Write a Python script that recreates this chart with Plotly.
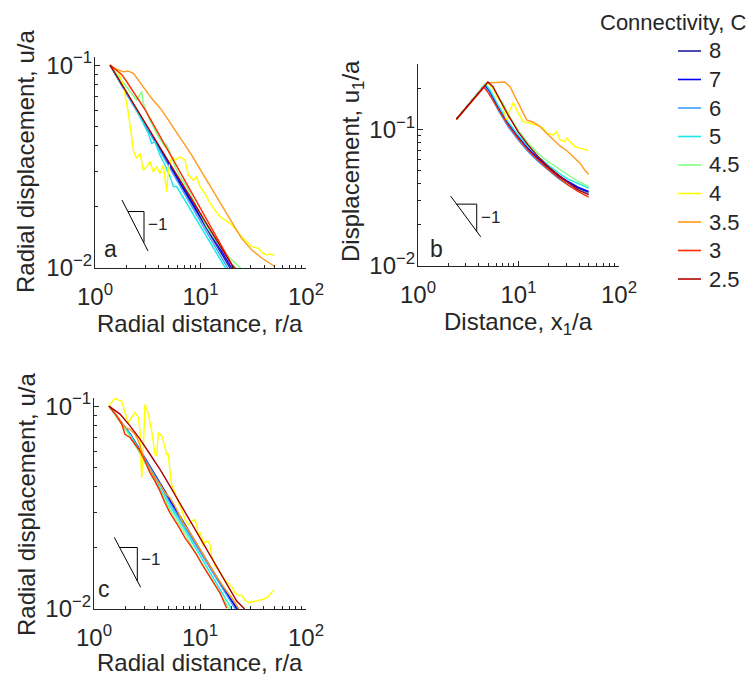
import plotly.graph_objects as go

# ---------------- data ----------------
CONNECTIVITY = ["8", "7", "6", "5", "4.5", "4", "3.5", "3", "2.5"]
COLORS = ["#1f1f9c", "#0000ff", "#3fa0ff", "#18e8e8", "#80ff80",
          "#ffff00", "#ff9a1a", "#ff2a00", "#b00000"]

# Panel a: radial displacement u/a vs r/a
A_R_8 = [1.39, 2.0, 3.0, 5.0, 8.0, 12.0, 19.05]
A_U_8 = [0.1, 0.0721, 0.0505, 0.0323, 0.0214, 0.01495, 0.01]
A_R_7 = [1.39, 2.0, 3.0, 5.0, 8.0, 12.0, 19.74]
A_U_7 = [0.1, 0.0725, 0.0511, 0.0328, 0.0218, 0.01534, 0.01]
A_R_6 = [1.39, 2.0, 3.0, 5.0, 8.0, 12.0, 18.1]
A_U_6 = [0.1, 0.0717, 0.0506, 0.0316, 0.0207, 0.0144, 0.01]
A_R_5 = [1.39, 1.664, 2.07, 2.57, 3.20, 3.44, 3.70, 4.13, 4.61, 5.14, 5.53, 5.94,
         6.63, 8.25, 10.26, 12.76, 15.3, 17.3]
A_U_5 = [0.1, 0.0860, 0.0711, 0.0578, 0.0461, 0.0411, 0.0419, 0.0360, 0.0322, 0.0282,
         0.0252, 0.0252, 0.0229, 0.0189, 0.0157, 0.0130, 0.01116, 0.00996]
A_R_45 = [1.39, 1.726, 1.995, 2.48, 2.77, 2.87, 3.20, 3.57, 3.98, 4.61, 4.78, 5.33,
          5.73, 6.39, 7.39, 8.55, 9.89, 11.44, 13.2, 15.3, 17.7, 20.5, 24.5]
A_U_45 = [0.1, 0.0860, 0.0782, 0.0673, 0.0740, 0.0648, 0.0557, 0.0497, 0.0444, 0.0396,
          0.0404, 0.0353, 0.0316, 0.0282, 0.0252, 0.0216, 0.0186, 0.0160, 0.01427,
          0.01274, 0.01158, 0.01074, 0.00989]
A_R_4 = [1.39, 1.664, 1.856, 2.07, 2.226, 2.31, 2.48, 2.67, 2.87, 3.09, 3.32, 3.57,
         3.84, 4.13, 4.44, 4.78, 4.96, 5.33, 5.73, 6.39, 7.13, 7.67, 8.55, 9.20, 9.89,
         11.03, 12.3, 13.7, 15.3, 17.1, 19.0, 21.2, 24.5, 27.4, 30.5, 35.3, 39.4, 42.4,
         45.6, 50.1]
A_U_4 = [0.1, 0.0927, 0.0797, 0.0578, 0.0444, 0.0381, 0.0347, 0.0367, 0.0304, 0.0316,
         0.0334, 0.0298, 0.0316, 0.0292, 0.0322, 0.0238, 0.0304, 0.0353, 0.0340, 0.0353,
         0.0340, 0.0287, 0.0271, 0.0282, 0.0252, 0.0233, 0.0208, 0.0193, 0.0179, 0.0172,
         0.0166, 0.0157, 0.01427, 0.01349, 0.01274, 0.01250, 0.01181, 0.01158, 0.01172,
         0.01158]
A_R_35 = [1.39, 1.547, 1.856, 2.07, 2.31, 2.77, 3.44, 4.29, 5.33, 6.63, 8.25, 10.26,
          12.76, 15.87, 19.74, 24.5, 30.5, 38.0, 50.1]
A_U_35 = [0.1, 0.0963, 0.0927, 0.0934, 0.0910, 0.0797, 0.0686, 0.0600, 0.0506, 0.0427,
          0.0360, 0.0298, 0.0247, 0.0204, 0.0169, 0.0140, 0.0123, 0.0112, 0.0102]
A_R_3 = [1.39, 1.6, 1.79, 2.0, 2.5, 3.0, 4.0, 5.0, 6.0, 8.0, 10.0, 12.0, 15.0, 20.0, 21.5]
A_U_3 = [0.1, 0.0945, 0.0900, 0.0828, 0.0698, 0.0600, 0.0460, 0.0374, 0.0315, 0.0242,
         0.0197, 0.0166, 0.0135, 0.01035, 0.01]
A_R_25 = [1.39, 2.0, 3.0, 5.0, 8.0, 12.0, 20.6]
A_U_25 = [0.1, 0.0729, 0.0515, 0.0334, 0.0224, 0.01581, 0.01]

# Panel b: displacement u1/a vs x1/a
B_X_8 = [2.41, 4.61, 5.16, 6.25, 7.86, 9.89, 12.43, 15.63, 19.66, 24.7, 31.1, 39.1, 49.9]
B_U_8 = [0.1183, 0.2107, 0.1884, 0.1439, 0.1088, 0.0869, 0.0715, 0.0604, 0.0525, 0.0456,
         0.0408, 0.0371, 0.0345]
B_X_7 = [2.41, 4.61, 5.16, 6.25, 7.86, 9.89, 12.43, 15.63, 19.66, 24.7, 31.1, 39.1, 49.9]
B_U_7 = [0.1183, 0.2107, 0.1905, 0.1463, 0.1106, 0.0884, 0.0727, 0.0614, 0.0534, 0.0464,
         0.0415, 0.0377, 0.0351]
B_X_6 = [2.41, 4.54, 5.05, 6.25, 7.86, 9.89, 12.43, 15.63, 19.66, 24.7, 31.1, 39.1, 49.9]
B_U_6 = [0.1183, 0.2071, 0.1884, 0.1384, 0.1046, 0.0836, 0.0687, 0.0581, 0.0505, 0.0439,
         0.0392, 0.0361, 0.0337]
B_X_5 = [2.41, 4.68, 5.25, 6.25, 7.86, 9.89, 12.43, 15.63, 19.66, 24.7, 31.1, 39.1, 49.9]
B_U_5 = [0.1183, 0.2143, 0.1915, 0.1505, 0.1137, 0.0909, 0.0747, 0.0632, 0.0549, 0.0483,
         0.0432, 0.0399, 0.0371]
B_X_45 = [2.41, 4.86, 5.37, 6.02, 7.01, 8.17, 9.89, 12.43, 15.63, 19.66, 24.7, 31.1,
          39.1, 49.9]
B_U_45 = [0.1183, 0.2191, 0.2048, 0.1832, 0.1548, 0.1237, 0.0989, 0.0790, 0.0668, 0.0581,
          0.0519, 0.0464, 0.0415, 0.0382]
B_X_4 = [2.41, 4.86, 5.57, 6.06, 6.80, 7.51, 7.74, 8.23, 8.88, 9.96, 11.17, 13.52, 15.16,
         17.66, 19.06, 22.2, 23.98, 25.88, 29.0, 30.1, 32.5, 36.5, 40.9, 49.5]
B_U_4 = [0.1183, 0.2191, 0.1991, 0.1731, 0.1548, 0.1203, 0.1170, 0.1384, 0.1565, 0.1308,
         0.1137, 0.1106, 0.1075, 0.1017, 0.0935, 0.0909, 0.0962, 0.0836, 0.0813, 0.0860,
         0.0813, 0.0747, 0.0727, 0.0699]
B_X_35 = [2.41, 4.86, 5.79, 7.28, 8.23, 9.59, 10.75, 12.06, 14.05, 16.37, 19.06, 22.2,
          25.88, 30.1, 35.1, 40.9, 45.5, 49.9]
B_U_35 = [0.1183, 0.2191, 0.2191, 0.2215, 0.2048, 0.1637, 0.1384, 0.1170, 0.1125, 0.1046,
          0.0935, 0.0836, 0.0755, 0.0699, 0.0632, 0.0565, 0.0505, 0.0469]
B_X_3 = [2.41, 4.54, 5.05, 6.25, 7.86, 9.89, 12.43, 15.63, 19.66, 24.7, 31.1, 39.1, 49.9]
B_U_3 = [0.1183, 0.2025, 0.1832, 0.1423, 0.1075, 0.0860, 0.0706, 0.0597, 0.0511, 0.0446,
         0.0392, 0.0351, 0.0319]
B_X_25 = [2.41, 4.97, 5.57, 6.25, 7.86, 9.89, 12.43, 15.63, 19.66, 24.7, 31.1, 39.1, 49.9]
B_U_25 = [0.1183, 0.2215, 0.2048, 0.1731, 0.1272, 0.0962, 0.0769, 0.0632, 0.0534, 0.0464,
          0.0408, 0.0361, 0.0332]

# Panel c: radial displacement u/a vs r/a
C_R_8 = [1.385, 1.759, 2.186, 2.716, 3.376, 4.195, 5.21, 6.96, 8.65, 10.75, 13.36, 16.60, 22.6]
C_U_8 = [0.1, 0.0852, 0.0732, 0.0610, 0.0505, 0.0417, 0.0345, 0.0268, 0.0221, 0.0183,
         0.0152, 0.01266, 0.01]
C_R_7 = [1.385, 1.759, 2.186, 2.716, 3.376, 4.195, 5.21, 6.96, 8.65, 10.75, 13.36, 15.44,
         19.19, 22.18]
C_U_7 = [0.1, 0.0846, 0.0727, 0.0601, 0.0497, 0.0414, 0.0342, 0.0265, 0.0220, 0.0182,
         0.0151, 0.0134, 0.01121, 0.01]
C_R_6 = [1.385, 1.759, 2.186, 2.716, 3.376, 4.195, 5.21, 6.96, 8.65, 10.75, 13.36, 16.60, 21.5]
C_U_6 = [0.1, 0.0846, 0.0727, 0.0606, 0.0501, 0.0411, 0.0333, 0.0260, 0.0217, 0.0180,
         0.0150, 0.01247, 0.01]
C_R_5 = [1.385, 1.759, 2.186, 2.716, 3.376, 4.195, 5.21, 6.96, 8.65, 10.75, 13.36, 16.60, 19.89]
C_U_5 = [0.1, 0.0840, 0.0721, 0.0597, 0.0488, 0.0399, 0.0321, 0.0253, 0.0207, 0.0172,
         0.0142, 0.0117, 0.01]
C_R_45 = [1.385, 1.759, 2.186, 2.716, 3.376, 4.195, 5.21, 6.96, 8.65, 10.75, 13.36, 16.60, 18.91]
C_U_45 = [0.1, 0.0833, 0.0710, 0.0583, 0.0475, 0.0384, 0.0309, 0.0243, 0.0198, 0.0164,
          0.01355, 0.01121, 0.01]
C_R_4 = [1.385, 1.578, 1.696, 1.824, 1.961, 2.108, 2.266, 2.436, 2.620, 2.716, 2.817, 2.921,
         3.028, 3.255, 3.499, 3.762, 3.90, 4.045, 4.35, 4.51, 4.85, 5.02, 5.21, 5.40, 5.81,
         6.25, 6.71, 7.22, 7.76, 8.35, 8.97, 9.30, 9.64, 10.0, 10.37, 10.75, 11.15, 11.99,
         12.43, 12.88, 13.36, 13.85, 14.89, 16.01, 17.21, 18.51, 19.89, 21.39, 22.99, 24.7,
         26.6, 28.6, 31.9, 35.5, 39.6, 44.1, 49.9]
C_U_4 = [0.1, 0.1095, 0.1071, 0.1055, 0.0930, 0.0830, 0.0879, 0.0930, 0.0879, 0.0755,
         0.0443, 0.0624, 0.1023, 0.0913, 0.0755, 0.0579, 0.0568, 0.0741, 0.0713, 0.0674,
         0.0579, 0.0579, 0.0479, 0.0411, 0.0374, 0.0333, 0.0309, 0.0276, 0.0260, 0.0271,
         0.0276, 0.0260, 0.0232, 0.0237, 0.0228, 0.0204, 0.0215, 0.0215, 0.0207, 0.0182,
         0.0175, 0.0162, 0.0156, 0.0147, 0.0139, 0.0134, 0.0129, 0.0120, 0.0117, 0.0117,
         0.01108, 0.01075, 0.01087, 0.01100, 0.01117, 0.01151, 0.01242]
C_R_35 = [1.385, 1.696, 1.961, 2.186, 2.436, 2.62, 2.817, 3.028, 3.376, 3.762, 4.195, 4.675,
          5.21, 5.81, 6.48, 6.96, 8.05, 9.30, 10.75, 13.36, 16.60, 20.63, 23.33]
C_U_35 = [0.1, 0.0879, 0.0784, 0.0769, 0.0727, 0.0674, 0.0601, 0.0536, 0.0488, 0.0443,
          0.0411, 0.0374, 0.0353, 0.0321, 0.0286, 0.0265, 0.0237, 0.0211, 0.0185, 0.0153,
          0.0129, 0.01108, 0.01]
C_R_3 = [1.385, 1.636, 1.824, 1.961, 2.186, 2.436, 2.716, 3.028, 3.376, 3.762, 4.195, 4.675,
         5.21, 6.25, 7.22, 8.05, 9.30, 10.75, 12.88, 15.44, 17.85]
C_U_3 = [0.1, 0.0896, 0.0815, 0.0727, 0.0700, 0.0648, 0.0601, 0.0536, 0.0469, 0.0427,
         0.0381, 0.0333, 0.0298, 0.0256, 0.0224, 0.0207, 0.0185, 0.0162, 0.0139, 0.0120,
         0.01008]
C_R_25 = [1.385, 1.759, 2.186, 2.716, 3.376, 4.195, 5.21, 7.48, 10.75, 15.44, 22.18, 26.38]
C_U_25 = [0.1, 0.0913, 0.0799, 0.0687, 0.0579, 0.0488, 0.0403, 0.0290, 0.0209, 0.0151,
          0.01095, 0.01]

# slope -1 guide triangles: hypotenuse ends and triangle corners (data units)
TRI_A = dict(hx=[1.803, 3.18], hy=[0.02163, 0.01213], xl=2.055, xr=2.914, yt=0.01898, yb=0.01338)
TRI_B = dict(hx=[2.115, 4.206], hy=[0.03243, 0.01636], xl=2.42, xr=3.84, yt=0.02834, yb=0.01786)
TRI_C = dict(hx=[1.554, 2.758], hy=[0.02255, 0.01279], xl=1.743, xr=2.562, yt=0.0201, yb=0.0137)

X_TICKS = [1, 10, 100]
X_TICKTEXT = ["10<sup>0</sup>", "10<sup>1</sup>", "10<sup>2</sup>"]
Y_TICKS = [0.01, 0.1]
Y_TICKTEXT = ["10<sup>\u22122</sup>", "10<sup>\u22121</sup>"]
X_MINOR = [2, 3, 4, 5, 6, 7, 8, 9, 20, 30, 40, 50, 60, 70, 80, 90]
Y_MINOR = [0.02, 0.03, 0.04, 0.05, 0.06, 0.07, 0.08, 0.09, 0.2, 0.3]

# ---------------- figure ----------------
W, H = 748, 677
FONT = "Liberation Sans, Arial, Helvetica, sans-serif"
INK = "#262626"


def fx(px):
    return px / W


def fy(py):
    return 1 - py / H


PANEL_A = [(A_R_8, A_U_8), (A_R_7, A_U_7), (A_R_6, A_U_6), (A_R_5, A_U_5), (A_R_45, A_U_45),
           (A_R_4, A_U_4), (A_R_35, A_U_35), (A_R_3, A_U_3), (A_R_25, A_U_25)]
PANEL_B = [(B_X_8, B_U_8), (B_X_7, B_U_7), (B_X_6, B_U_6), (B_X_5, B_U_5), (B_X_45, B_U_45),
           (B_X_4, B_U_4), (B_X_35, B_U_35), (B_X_3, B_U_3), (B_X_25, B_U_25)]
PANEL_C = [(C_R_8, C_U_8), (C_R_7, C_U_7), (C_R_6, C_U_6), (C_R_5, C_U_5), (C_R_45, C_U_45),
           (C_R_4, C_U_4), (C_R_35, C_U_35), (C_R_3, C_U_3), (C_R_25, C_U_25)]

fig = go.Figure()
for panel, (xa, ya) in zip([PANEL_A, PANEL_B, PANEL_C], [("x", "y"), ("x2", "y2"), ("x3", "y3")]):
    for (xs, ys), col, name in zip(panel, COLORS, CONNECTIVITY):
        fig.add_trace(go.Scatter(x=xs, y=ys, mode="lines", name=name, xaxis=xa, yaxis=ya,
                                 line=dict(color=col, width=1.4), showlegend=False,
                                 hoverinfo="skip"))

for tri, (xa, ya) in zip([TRI_A, TRI_B, TRI_C], [("x", "y"), ("x2", "y2"), ("x3", "y3")]):
    fig.add_trace(go.Scatter(
        x=tri["hx"] + [None, tri["xl"], tri["xr"], tri["xr"]],
        y=tri["hy"] + [None, tri["yt"], tri["yt"], tri["yb"]],
        mode="lines", line=dict(color="black", width=1), xaxis=xa, yaxis=ya,
        showlegend=False, hoverinfo="skip"))


def xaxis_style(domain, anchor):
    return dict(type="log", range=[0, 2], domain=domain, anchor=anchor, automargin=False,
                showline=True, linecolor=INK, linewidth=1, mirror=False,
                ticks="inside", ticklen=5, tickwidth=1, tickcolor=INK,
                tickvals=X_TICKS, ticktext=X_TICKTEXT, ticklabelstandoff=7,
                tickfont=dict(family=FONT, size=24, color=INK),
                minor=dict(ticks="inside", ticklen=3, tickwidth=1, tickcolor=INK,
                           tickmode="array", tickvals=X_MINOR, showgrid=False),
                showgrid=False, zeroline=False)


def yaxis_style(domain, anchor, top):
    return dict(type="log", range=[-2, top], domain=domain, anchor=anchor, automargin=False,
                showline=True, linecolor=INK, linewidth=1, mirror=False,
                ticks="inside", ticklen=5, tickwidth=1, tickcolor=INK,
                tickvals=Y_TICKS, ticktext=Y_TICKTEXT, ticklabelstandoff=-3,
                tickfont=dict(family=FONT, size=24, color=INK),
                minor=dict(ticks="inside", ticklen=3, tickwidth=1, tickcolor=INK,
                           tickmode="array", tickvals=Y_MINOR, showgrid=False),
                showgrid=False, zeroline=False)


fig.update_layout(
    template="none",
    width=W, height=H, margin=dict(l=0, r=0, t=0, b=0, pad=0, autoexpand=False),
    paper_bgcolor="white", plot_bgcolor="white", showlegend=False,
    font=dict(family=FONT, color=INK),
    xaxis=xaxis_style([fx(95), fx(306)], "y"),
    yaxis=yaxis_style([fy(268), fy(57)], "x", -0.96),
    xaxis2=xaxis_style([fx(418), fx(619)], "y2"),
    yaxis2=yaxis_style([fy(266), fy(64)], "x2", -0.5229),
    xaxis3=xaxis_style([fx(94), fx(306)], "y3"),
    yaxis3=yaxis_style([fy(609), fy(398)], "x3", -0.96),
)

ann = []


def text(x, y, s, size, angle=0, xanchor="center"):
    ann.append(dict(x=fx(x), y=fy(y), xref="paper", yref="paper", text=s, showarrow=False,
                    textangle=angle, xanchor=xanchor, yanchor="middle",
                    font=dict(family=FONT, size=size, color=INK)))


# axis titles
text(26, 162, "Radial displacement, u/a", 24, -90)
text(200, 323, "Radial distance, r/a", 24)
text(352, 161, "Displacement, u<sub>1</sub>/a", 24, -90)
text(518, 323, "Distance, x<sub>1</sub>/a", 24)
text(26, 505, "Radial displacement, u/a", 24, -90)
text(200, 662, "Radial distance, r/a", 24)

# panel letters and slope labels
text(102, 249, "a", 23, xanchor="left")
text(428, 249, "b", 23, xanchor="left")
text(96, 589, "c", 23, xanchor="left")
text(146, 224, "\u22121", 17, xanchor="left")
text(479, 217, "\u22121", 17, xanchor="left")
text(139, 559, "\u22121", 17, xanchor="left")

# legend (manual, MATLAB-like)
text(598, 22, "Connectivity, C", 22, xanchor="left")
shapes = []
LEG_Y0, LEG_DY = 51, 28.5
for i, (name, col) in enumerate(zip(CONNECTIVITY, COLORS)):
    yy = LEG_Y0 + i * LEG_DY
    shapes.append(dict(type="line", xref="paper", yref="paper", x0=fx(678), x1=fx(701),
                       y0=fy(yy), y1=fy(yy), line=dict(color=col, width=1.6)))
    text(707, yy, name, 22, xanchor="left")

fig.update_layout(annotations=ann, shapes=shapes)
fig.write_html("out.html",
               config={"displayModeBar": False, "staticPlot": True},
               post_script="document.body.style.margin='0px';"
                           "document.body.style.overflow='hidden';")
